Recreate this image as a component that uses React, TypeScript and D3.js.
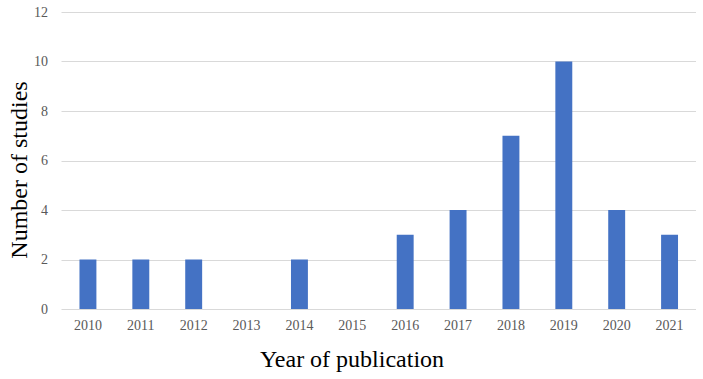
import React from "react";
import * as d3 from "d3";

const years = ["2010","2011","2012","2013","2014","2015","2016","2017","2018","2019","2020","2021"];
const studies = [2,2,2,0,2,0,3,4,7,10,4,3];
const yTicks = [0,2,4,6,8,10,12];

export default function App() {
  const W = 703, H = 379;
  const left = 61.5, right = 696, top = 12, bottom = 309;
  const x = d3.scaleBand<string>().domain(years).range([left, right]).paddingInner(0.68).paddingOuter(0.34);
  const y = d3.scaleLinear().domain([0, 12]).range([bottom, top]);
  const font = "'Liberation Serif', 'Times New Roman', serif";
  return (
    <svg width={W} height={H} style={{ position: "absolute", left: 0, top: 0, background: "#fff" }}>
      {yTicks.map(t => (
        <g key={t}>
          <line x1={left} x2={right} y1={Math.round(y(t)) + 0.5} y2={Math.round(y(t)) + 0.5} stroke="#d9d9d9" strokeWidth={1} />
          <text x={48} y={y(t)} dy="0.35em" textAnchor="end" fontFamily={font} fontSize={14} fill="#595959">{t}</text>
        </g>
      ))}
      {years.map((yr, i) => (
        <rect key={yr} x={x(yr)} width={x.bandwidth()} y={y(studies[i])} height={bottom - y(studies[i])} fill="#4472C4" />
      ))}
      {years.map(yr => (
        <text key={yr} x={(x(yr) as number) + x.bandwidth() / 2} y={330} textAnchor="middle" fontFamily={font} fontSize={14} fill="#595959">{yr}</text>
      ))}
      <text x={352} y={367} textAnchor="middle" fontFamily={font} fontSize={24} fill="#000">Year of publication</text>
      <text transform={`translate(27,170) rotate(-90)`} textAnchor="middle" fontFamily={font} fontSize={24} fill="#000">Number of studies</text>
    </svg>
  );
}
